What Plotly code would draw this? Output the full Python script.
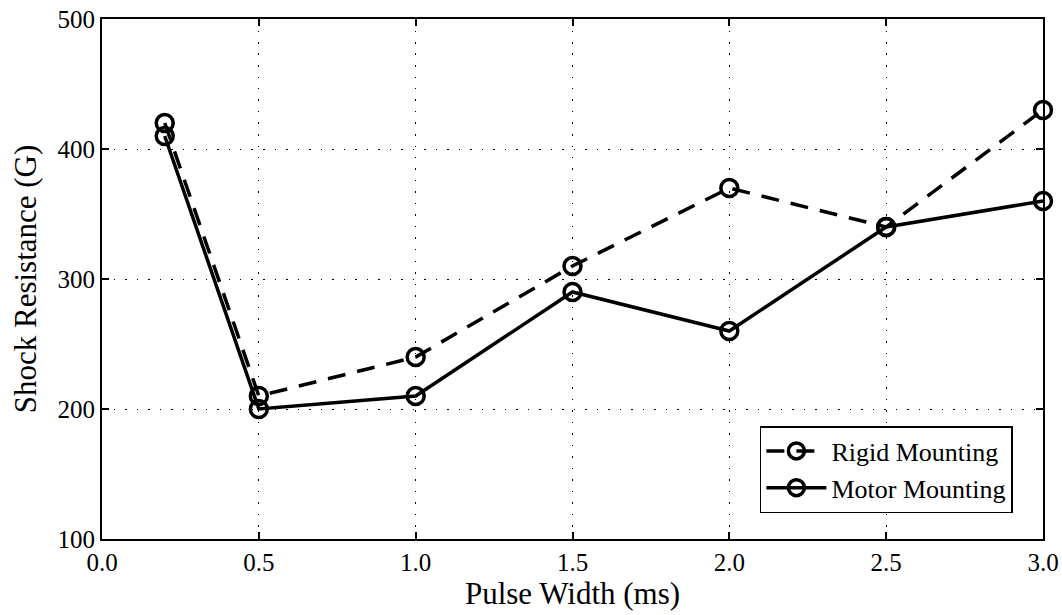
import plotly.graph_objects as go

pulse_width = [0.2, 0.5, 1.0, 1.5, 2.0, 2.5, 3.0]
rigid = [420, 210, 240, 310, 370, 340, 430]
motor = [410, 200, 210, 290, 260, 340, 360]

font = "Liberation Serif, Times New Roman, serif"

fig = go.Figure()
fig.add_trace(go.Scatter(x=pulse_width, y=rigid, name="Rigid Mounting", mode="lines+markers",
                         line=dict(color="black", width=3.5, dash="18px,12px"),
                         marker=dict(symbol="circle-open", size=17, color="black", line=dict(width=3.5)),
                         cliponaxis=False))
fig.add_trace(go.Scatter(x=pulse_width, y=motor, name="Motor Mounting", mode="lines+markers",
                         line=dict(color="black", width=3.5),
                         marker=dict(symbol="circle-open", size=17, color="black", line=dict(width=3.5)),
                         cliponaxis=False))

axis_common = dict(showline=True, linecolor="black", linewidth=2, mirror="ticks",
                   ticks="inside", ticklen=7, tickcolor="black", tickwidth=1.5,
                   showgrid=True, gridcolor="black", gridwidth=1.2, griddash="1.5px,10px",
                   zeroline=False, automargin=False,
                   tickfont=dict(family=font, size=25, color="black"))

fig.update_layout(
    width=1062, height=615,
    margin=dict(l=102, r=19, t=19, b=76),
    paper_bgcolor="white", plot_bgcolor="white",
    font=dict(family=font, color="black"),
    xaxis=dict(range=[0, 3], tickvals=[0, 0.5, 1.0, 1.5, 2.0, 2.5, 3.0], tickformat=".1f",
               title=dict(text="Pulse Width (ms)", font=dict(family=font, size=31), standoff=4),
               **axis_common),
    yaxis=dict(range=[100, 500], tickvals=[100, 200, 300, 400, 500],
               title=dict(text="Shock Resistance (G)", font=dict(family=font, size=31), standoff=12),
               **axis_common),
    legend=dict(x=0.968, y=0.05, xanchor="right", yanchor="bottom",
                bgcolor="white", bordercolor="black", borderwidth=1.5,
                font=dict(family=font, size=26, color="black"),
                itemwidth=60, tracegroupgap=2),
    showlegend=True,
)

fig.write_html("out.html", config={"displayModeBar": False},
               post_script="document.body.style.margin='0';document.body.style.overflow='hidden';")
